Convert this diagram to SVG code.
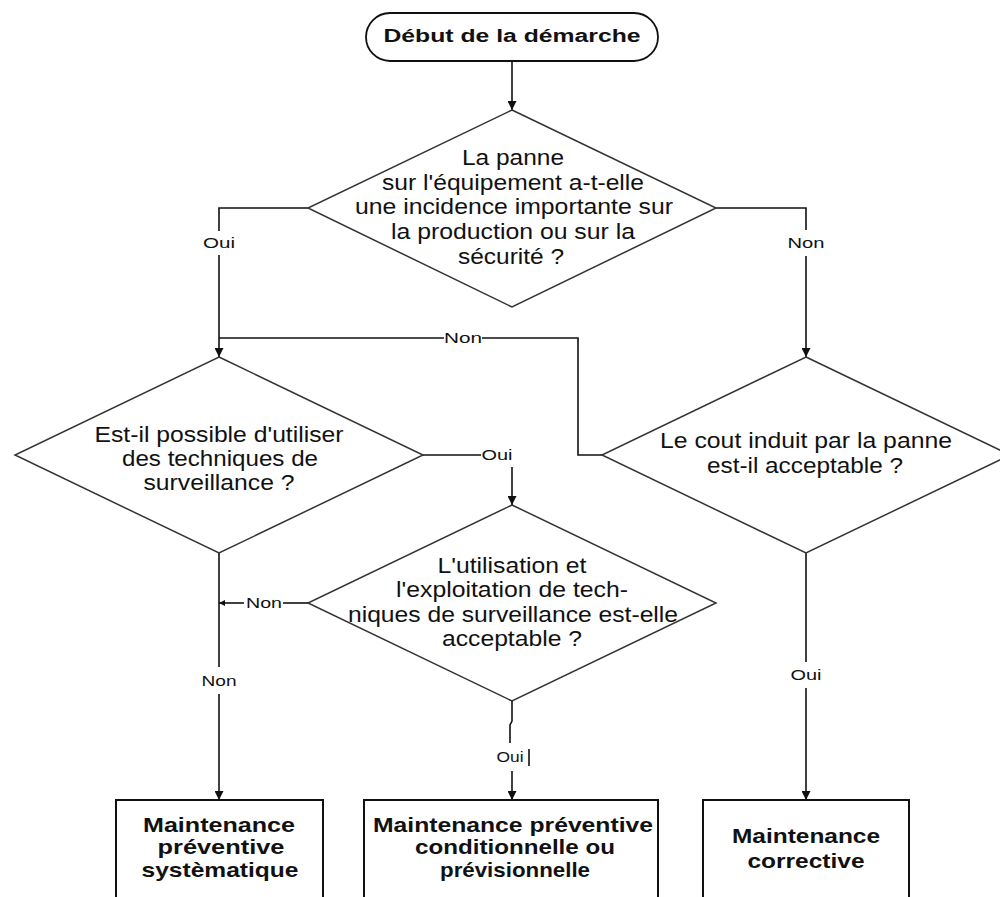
<svg xmlns="http://www.w3.org/2000/svg" width="1000" height="897" viewBox="0 0 1000 897">
<defs>
<marker id="arr" viewBox="0 0 10 10" refX="10" refY="5" markerWidth="9" markerHeight="9" markerUnits="userSpaceOnUse" orient="auto"><path d="M0,0 L10,5 L0,10 z" fill="#111"/></marker>
<marker id="arrs" viewBox="0 0 10 10" refX="10" refY="5" markerWidth="6" markerHeight="6" markerUnits="userSpaceOnUse" orient="auto"><path d="M0,0 L10,5 L0,10 z" fill="#111"/></marker>
<style>
.ln{fill:none;stroke:#111;stroke-width:1.6}
.sh{fill:#fff;stroke:#333;stroke-width:1.5}
.bx{fill:#fff;stroke:#111;stroke-width:2}
.q{font-family:"Liberation Sans",Arial,sans-serif;font-size:22px;fill:#111;text-anchor:middle}
.b{font-family:"Liberation Sans",Arial,sans-serif;font-size:21px;font-weight:bold;fill:#111;text-anchor:middle}
.t{font-family:"Liberation Sans",Arial,sans-serif;font-size:18px;font-weight:bold;fill:#111;text-anchor:middle}
.lb{font-family:"Liberation Sans",Arial,sans-serif;font-size:15px;fill:#111;text-anchor:middle}
</style>
</defs>
<rect x="0" y="0" width="1000" height="897" fill="#fff"/>

<g id="connectors">
<path class="ln" d="M512,61 V110" marker-end="url(#arr)"/>
<path class="ln" d="M308,208 H219 V231"/>
<path class="ln" d="M219,255 V357" marker-end="url(#arr)"/>
<path class="ln" d="M602,455 H578 V338 H482"/>
<path class="ln" d="M444,338 H219"/>
<path class="ln" d="M716,208 H806 V230"/>
<path class="ln" d="M806,256 V357" marker-end="url(#arr)"/>
<path class="ln" d="M423,455 H481"/>
<path class="ln" d="M512,467 V505" marker-end="url(#arr)"/>
<path class="ln" d="M308,603 H283"/>
<path class="ln" d="M244,603 H219" marker-end="url(#arrs)"/>
<path class="ln" d="M219,553 V667"/>
<path class="ln" d="M219,694 V800" marker-end="url(#arr)"/>
<path class="ln" d="M512,701 V721 L510,725 V743"/>
<path class="ln" d="M512,771 V800" marker-end="url(#arr)"/>
<path class="ln" d="M529,749 V766"/>
<path class="ln" d="M806,553 V662"/>
<path class="ln" d="M806,688 V800" marker-end="url(#arr)"/>
<text class="lb" x="219" y="248" textLength="32" lengthAdjust="spacingAndGlyphs">Oui</text>
<text class="lb" x="806" y="248" textLength="37" lengthAdjust="spacingAndGlyphs">Non</text>
<text class="lb" x="463" y="343" textLength="38" lengthAdjust="spacingAndGlyphs">Non</text>
<text class="lb" x="497" y="460" textLength="31" lengthAdjust="spacingAndGlyphs">Oui</text>
<text class="lb" x="264" y="608" textLength="36" lengthAdjust="spacingAndGlyphs">Non</text>
<text class="lb" x="219" y="686" textLength="35" lengthAdjust="spacingAndGlyphs">Non</text>
<text class="lb" x="510" y="762" textLength="27" lengthAdjust="spacingAndGlyphs">Oui</text>
<text class="lb" x="806" y="680" textLength="31" lengthAdjust="spacingAndGlyphs">Oui</text>
</g>

<g id="start">
<rect x="366" y="13" width="292" height="48" rx="24" ry="24" fill="#fff" stroke="#111" stroke-width="1.8"/>
<text class="t" x="512" y="42" textLength="257" lengthAdjust="spacingAndGlyphs">Début de la démarche</text>
</g>

<g id="q1">
<polygon class="sh" points="512,110 716,208 512,307 308,208"/>
<text class="q" x="513" y="165" textLength="102" lengthAdjust="spacingAndGlyphs">La panne</text>
<text class="q" x="513" y="190" textLength="262" lengthAdjust="spacingAndGlyphs">sur l'équipement a-t-elle</text>
<text class="q" x="514" y="214" textLength="318" lengthAdjust="spacingAndGlyphs">une incidence importante sur</text>
<text class="q" x="513" y="239" textLength="244" lengthAdjust="spacingAndGlyphs">la production ou sur la</text>
<text class="q" x="511" y="264" textLength="106" lengthAdjust="spacingAndGlyphs">sécurité ?</text>
</g>

<g id="q2">
<polygon class="sh" points="219,357 423,455 219,553 15,455"/>
<text class="q" x="219" y="442" textLength="249" lengthAdjust="spacingAndGlyphs">Est-il possible d'utiliser</text>
<text class="q" x="220" y="466" textLength="196" lengthAdjust="spacingAndGlyphs">des techniques de</text>
<text class="q" x="219" y="490" textLength="151" lengthAdjust="spacingAndGlyphs">surveillance ?</text>
</g>

<g id="q3">
<polygon class="sh" points="512,505 716,603 512,701 308,603"/>
<text class="q" x="512" y="573" textLength="149" lengthAdjust="spacingAndGlyphs">L'utilisation et</text>
<text class="q" x="512" y="597" textLength="232" lengthAdjust="spacingAndGlyphs">l'exploitation de tech-</text>
<text class="q" x="513" y="622" textLength="330" lengthAdjust="spacingAndGlyphs">niques de surveillance est-elle</text>
<text class="q" x="512" y="646" textLength="140" lengthAdjust="spacingAndGlyphs">acceptable ?</text>
</g>

<g id="q4">
<polygon class="sh" points="806,357 1010,455 806,553 602,455"/>
<text class="q" x="806" y="448" textLength="292" lengthAdjust="spacingAndGlyphs">Le cout induit par la panne</text>
<text class="q" x="805" y="473" textLength="196" lengthAdjust="spacingAndGlyphs">est-il acceptable ?</text>
</g>

<g id="r1">
<rect class="bx" x="116" y="800" width="207" height="130"/>
<text class="b" x="219" y="832" textLength="152" lengthAdjust="spacingAndGlyphs">Maintenance</text>
<text class="b" x="221" y="854" textLength="127" lengthAdjust="spacingAndGlyphs">préventive</text>
<text class="b" x="220" y="877" textLength="157" lengthAdjust="spacingAndGlyphs">systèmatique</text>
</g>

<g id="r2">
<rect class="bx" x="364" y="800" width="294" height="130"/>
<text class="b" x="513" y="832" textLength="280" lengthAdjust="spacingAndGlyphs">Maintenance préventive</text>
<text class="b" x="515" y="854" textLength="200" lengthAdjust="spacingAndGlyphs">conditionnelle ou</text>
<text class="b" x="515" y="877" textLength="150" lengthAdjust="spacingAndGlyphs">prévisionnelle</text>
</g>

<g id="r3">
<rect class="bx" x="703" y="800" width="206" height="130"/>
<text class="b" x="806" y="843" textLength="148" lengthAdjust="spacingAndGlyphs">Maintenance</text>
<text class="b" x="806" y="868" textLength="117" lengthAdjust="spacingAndGlyphs">corrective</text>
</g>
</svg>
